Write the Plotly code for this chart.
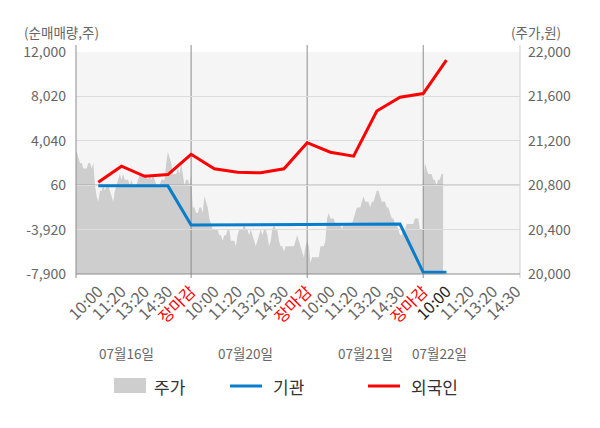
import numpy as np
import plotly.graph_objects as go

FONT = "Noto Sans CJK KR"

# ---- data -------------------------------------------------------------
DAYS = ["07월16일", "07월20일", "07월21일", "07월22일"]
SLOTS = ["10:00", "11:20", "13:20", "14:30", "장마감"]

# net buying (shares) at each slot, 10:00 of day 1 ... 10:00 of day 4
INST = [0, 0, 0, 0, -3500, -3490, -3490, -3490, -3480,
        -3420, -3420, -3420, -3420, -3420, -7750, -7750]
FOREIGN = [320, 1760, 860, 1010, 2830, 1530, 1220, 1170, 1530,
           3870, 3020, 2660, 6710, 7950, 8280, 11280]

# intraday price (won)
PRICE_D1 = [21100, 21100, 21050, 21000, 21000, 20950, 20950, 20950, 21000, 21000,
            20950, 21000, 20800, 20700, 20650, 20750, 20750, 20800, 20750, 20800,
            20800, 20750, 20700, 20650, 20750, 20800, 20850, 20900, 20850, 20900,
            20850, 20850, 20850, 20800, 20850, 20800, 20800, 20800, 20850, 20900,
            20900, 20900, 20900, 20900, 20850, 20900, 20850, 20900, 20850, 20800,
            20800, 20800, 20850, 20850, 20850, 21000, 21100, 21050, 21000, 20900,
            20900, 20900, 20950, 20900, 21000, 20900, 20800, 20850, 20850, 20800,
            20900]
PRICE_D2 = [20850, 20600, 20600, 20550, 20550, 20600, 20600, 20550, 20700, 20650,
            20600, 20500, 20450, 20400, 20400, 20400, 20400, 20350, 20350, 20300,
            20350, 20350, 20400, 20400, 20300, 20300, 20300, 20250, 20350, 20400,
            20400, 20400, 20450, 20400, 20400, 20350, 20400, 20350, 20300, 20250,
            20300, 20350, 20400, 20350, 20400, 20400, 20350, 20250, 20300, 20400,
            20450, 20400, 20400, 20300, 20250, 20250, 20200, 20250, 20250, 20250,
            20250, 20250, 20250, 20300, 20350, 20300, 20250, 20200, 20150, 20250,
            20300]
PRICE_D3 = [20300, 20250, 20100, 20150, 20150, 20150, 20150, 20150, 20250, 20250,
            20250, 20300, 20500, 20550, 20500, 20500, 20500, 20450, 20450, 20450,
            20450, 20400, 20450, 20450, 20450, 20450, 20450, 20450, 20500, 20550,
            20600, 20600, 20600, 20650, 20700, 20650, 20650, 20650, 20600, 20650,
            20650, 20700, 20750, 20750, 20700, 20650, 20650, 20650, 20600, 20600,
            20550, 20500, 20500, 20450, 20450, 20400, 20350, 20350, 20400, 20400,
            20450, 20450, 20450, 20450, 20450, 20500, 20500, 20500, 20400, 20400,
            20400]
PRICE_D4 = [20800, 21000, 20950, 20900, 20900, 20900, 20850, 20850, 20800, 20850,
            20850, 20900, 20900]

VOL_TICKS = [-7900, -3920, 60, 4040, 8020, 12000]
PRICE_TICKS = [20000, 20400, 20800, 21200, 21600, 22000]

# ---- geometry helpers -------------------------------------------------
W, H = 600, 428
ML, MR, MT, MB = 76, 80, 52, 154
PW, PH = W - ML - MR, H - MT - MB
XR = [0.04, 19.17]


def fx(px):
    return (px - ML) / PW


def fy(py):
    return (H - MB - py) / PH


# tick labels: one slot per label, day close has no label on the last day
tick_text = []
for d in range(len(DAYS)):
    for s in SLOTS:
        if d == len(DAYS) - 1 and s == "장마감":
            continue
        if s == "장마감":
            c = "#ff0000"
        elif d == len(DAYS) - 1 and s == "10:00":
            c = "#222222"
        else:
            c = "#666666"
        tick_text.append(f"<span style='color:{c}'>{s}</span>")
tick_pos = list(range(1, len(tick_text) + 1))
line_pos = tick_pos[:len(FOREIGN)]

step = len(SLOTS) / 70
price_days = [PRICE_D1, PRICE_D2, PRICE_D3, PRICE_D4]
price_x = np.concatenate([len(SLOTS) * d + np.arange(len(p)) * step
                          for d, p in enumerate(price_days)])
price_y = np.concatenate(price_days)
close_pos = [len(SLOTS) * (d + 1) for d in range(len(DAYS) - 1)]

fig = go.Figure()
fig.add_trace(go.Scatter(x=price_x, y=price_y, mode="lines", fill="tozeroy",
                         fillcolor="#cecece", line=dict(width=0, color="#cecece"),
                         xaxis="x", yaxis="y", name="주가", hoverinfo="skip"))
fig.add_trace(go.Scatter(x=line_pos, y=INST, mode="lines", name="기관",
                         line=dict(color="#0a7dca", width=3), xaxis="x2", yaxis="y2"))
fig.add_trace(go.Scatter(x=line_pos, y=FOREIGN, mode="lines", name="외국인",
                         line=dict(color="#ff0000", width=3), xaxis="x2", yaxis="y2"))

shapes = [dict(type="rect", xref="paper", yref="paper", x0=0, x1=1, y0=0, y1=1,
               fillcolor="#f5f5f5", line=dict(width=0), layer="below")]
# day dividers and the 60 line sit between the price area and the lines
for p in close_pos:
    shapes.append(dict(type="line", xref="x2", yref="y2", x0=p, x1=p,
                       y0=VOL_TICKS[0], y1=VOL_TICKS[-1],
                       line=dict(color="#8c8c8c", width=1), layer="below"))
shapes.append(dict(type="line", xref="x2", yref="y2", x0=XR[0], x1=XR[1], y0=60, y1=60,
                   line=dict(color="#8c8c8c", width=1), layer="below"))
top_ext, bot_ext = 1 + 7 / PH, -4 / PH
edge_x = [0] + [(p - XR[0]) / (XR[1] - XR[0]) for p in close_pos]
for ex in edge_x:
    for y0, y1 in [(1, top_ext), (bot_ext, 0)]:
        shapes.append(dict(type="line", xref="paper", yref="paper", x0=ex, x1=ex,
                           y0=y0, y1=y1, line=dict(color="#8c8c8c", width=1)))
shapes.append(dict(type="line", xref="paper", yref="paper", x0=0, x1=0, y0=0, y1=1,
                   line=dict(color="#8c8c8c", width=1)))
shapes.append(dict(type="line", xref="paper", yref="paper", x0=1, x1=1, y0=bot_ext, y1=top_ext,
                   line=dict(color="#d0d0d0", width=1)))
shapes.append(dict(type="line", xref="paper", yref="paper", x0=0, x1=1, y0=0, y1=0,
                   line=dict(color="#8c8c8c", width=1)))

# legend drawn by hand: gray block for the price area, short lines for the rest
leg_y = fy(386)
shapes.append(dict(type="rect", xref="paper", yref="paper", x0=fx(114), x1=fx(146),
                   y0=fy(393), y1=fy(378), fillcolor="#cecece", line=dict(width=0)))
shapes.append(dict(type="line", xref="paper", yref="paper", x0=fx(230), x1=fx(262),
                   y0=leg_y, y1=leg_y, line=dict(color="#0a7dca", width=3)))
shapes.append(dict(type="line", xref="paper", yref="paper", x0=fx(368), x1=fx(400),
                   y0=leg_y, y1=leg_y, line=dict(color="#ff0000", width=3)))

annotations = []
for name, px in [("주가", 152), ("기관", 271), ("외국인", 409)]:
    annotations.append(dict(text=name, xref="paper", yref="paper", x=fx(px), y=leg_y,
                            xanchor="left", yanchor="middle", showarrow=False,
                            font=dict(size=17, color="#333333")))
DATE_POS = [2.2, 7.35, 12.5, 15.72]
for d, xp in zip(DAYS, DATE_POS):
    annotations.append(dict(text=d, xref="x", yref="paper", x=xp, y=fy(353),
                            xanchor="center", yanchor="middle", showarrow=False,
                            font=dict(size=13.5, color="#666666")))
annotations.append(dict(text="(순매매량,주)", xref="paper", yref="paper", x=fx(61), y=fy(32),
                        xanchor="center", yanchor="middle", showarrow=False,
                        font=dict(size=13.5, color="#666666")))
annotations.append(dict(text="(주가,원)", xref="paper", yref="paper", x=fx(536), y=fy(32),
                        xanchor="center", yanchor="middle", showarrow=False,
                        font=dict(size=13.5, color="#666666")))

fig.update_layout(
    width=W, height=H,
    margin=dict(l=ML, r=MR, t=MT, b=MB),
    paper_bgcolor="white", plot_bgcolor="rgba(0,0,0,0)",
    font=dict(family=FONT, size=14, color="#666666"),
    showlegend=False,
    xaxis=dict(range=XR, tickmode="array", tickvals=tick_pos, ticktext=tick_text,
               tickangle=-45, showgrid=False, zeroline=False, showline=False,
               ticks="", ticklabelstandoff=4, tickfont=dict(size=16),
               anchor="y", fixedrange=True),
    yaxis=dict(side="right", range=[PRICE_TICKS[0], PRICE_TICKS[-1]], tickmode="array",
               tickvals=PRICE_TICKS, ticktext=[f"{v:,}" for v in PRICE_TICKS],
               showgrid=False, zeroline=False, ticks="", ticklabelstandoff=7, anchor="x"),
    xaxis2=dict(range=XR, visible=False, anchor="y2"),
    yaxis2=dict(side="left", range=[VOL_TICKS[0], VOL_TICKS[-1]], tickmode="array",
                tickvals=VOL_TICKS, ticktext=[f"{v:,}" for v in VOL_TICKS],
                showgrid=True, gridcolor="#dcdcdc", gridwidth=1, zeroline=False,
                ticks="", ticklabelstandoff=9, anchor="x2"),
    shapes=shapes,
    annotations=annotations,
)

# the page body has a default margin; drop it so the figure sits at the top-left
fig.write_html("out.html", config={"displayModeBar": False},
               post_script="document.body.style.margin='0';")
